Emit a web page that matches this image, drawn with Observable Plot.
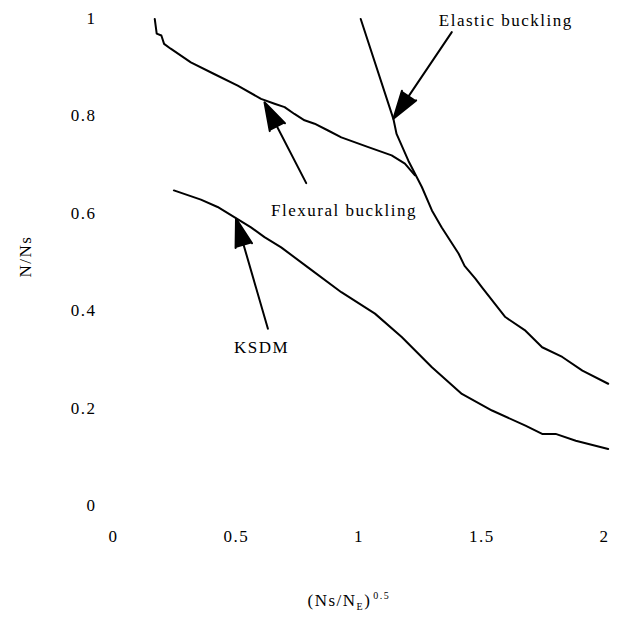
<!DOCTYPE html>
<html>
<head>
<meta charset="utf-8">
<script src="https://cdn.jsdelivr.net/npm/d3@7"></script>
<script src="https://cdn.jsdelivr.net/npm/@observablehq/plot@0.6"></script>
<style>
  html, body { margin: 0; padding: 0; background: #fff; }
  #chart svg { display: block; }
</style>
</head>
<body>
<div id="chart"></div>
<script>
// Tick values
const xTicks = [0, 0.5, 1, 1.5, 2];
const yTicks = [0, 0.2, 0.4, 0.6, 0.8, 1];
const xTickLabels = ["0", "0.5", "1", "1.5", "2"];
const yTickLabels = ["0", "0.2", "0.4", "0.6", "0.8", "1"];

// Flexural buckling curve
const flexX = [0.168, 0.176, 0.195, 0.206, 0.233, 0.315, 0.410, 0.506, 0.601, 0.656, 0.697, 0.737, 0.778, 0.819, 0.874, 0.928, 1.038, 1.133, 1.187, 1.228];
const flexY = [0.999, 0.969, 0.965, 0.948, 0.938, 0.910, 0.886, 0.862, 0.835, 0.825, 0.818, 0.804, 0.791, 0.784, 0.770, 0.756, 0.736, 0.719, 0.702, 0.678];

// Elastic buckling curve
const elasX = [1.007, 1.140, 1.153, 1.201, 1.256, 1.297, 1.337, 1.406, 1.430, 1.474, 1.501, 1.596, 1.678, 1.746, 1.828, 1.910, 2.015];
const elasY = [0.999, 0.794, 0.763, 0.708, 0.654, 0.606, 0.571, 0.517, 0.492, 0.466, 0.448, 0.387, 0.359, 0.325, 0.305, 0.277, 0.250];

// KSDM curve
const ksdmX = [0.246, 0.356, 0.424, 0.492, 0.560, 0.615, 0.683, 0.792, 0.928, 1.065, 1.174, 1.297, 1.419, 1.542, 1.678, 1.746, 1.801, 1.883, 2.015];
const ksdmY = [0.647, 0.628, 0.613, 0.592, 0.571, 0.551, 0.530, 0.489, 0.438, 0.394, 0.346, 0.284, 0.229, 0.195, 0.164, 0.147, 0.147, 0.133, 0.116];

// Annotations
const labelText = ["Elastic buckling", "Flexural buckling", "KSDM"];
const labelX = [1.325, 0.642, 0.491];
const labelY = [0.996, 0.606, 0.324];
const arrowX1 = [1.378, 0.785, 0.629];
const arrowY1 = [0.972, 0.662, 0.363];
const arrowX2 = [1.140, 0.615, 0.499];
const arrowY2 = [0.794, 0.828, 0.589];

const toRows = (xs, ys) => xs.map((x, i) => ({x, y: ys[i]}));
const flex = toRows(flexX, flexY);
const elas = toRows(elasX, elasY);
const ksdm = toRows(ksdmX, ksdmY);
const labels = labelText.map((t, i) => ({t, x: labelX[i], y: labelY[i]}));
const arrows = arrowX1.map((x1, i) => ({x1, y1: arrowY1[i], x2: arrowX2[i], y2: arrowY2[i]}));

const plot = Plot.plot({
  width: 619,
  height: 617,
  marginLeft: 113,
  marginRight: 15,
  marginTop: 18,
  marginBottom: 112,
  style: {fontFamily: "'Liberation Serif', 'Times New Roman', serif", fontSize: "17px", letterSpacing: "1.5px", color: "#000", background: "#fff"},
  x: {domain: [0, 2]},
  y: {domain: [0, 1]},
  marks: [
    Plot.axisX({ticks: xTicks, tickFormat: (d, i) => xTickLabels[i], tickSize: 0, tickPadding: 24, label: null, fontSize: 17}),
    Plot.axisY({ticks: yTicks, tickFormat: (d, i) => yTickLabels[i], tickSize: 0, tickPadding: 17, label: null, fontSize: 17}),
    Plot.line(flex, {x: "x", y: "y", stroke: "#000", strokeWidth: 2}),
    Plot.line(elas, {x: "x", y: "y", stroke: "#000", strokeWidth: 2}),
    Plot.line(ksdm, {x: "x", y: "y", stroke: "#000", strokeWidth: 2}),
    Plot.arrow(arrows, {x1: "x1", y1: "y1", x2: "x2", y2: "y2", stroke: "#000", fill: "#000", strokeWidth: 2, headLength: 22, headAngle: 34, strokeLinejoin: "miter"}),
    Plot.text(labels, {x: "x", y: "y", text: "t", textAnchor: "start", fill: "#000", fontSize: 17})
  ]
});

document.getElementById("chart").appendChild(plot);

const svg = d3.select(plot);
const sx = plot.scale("x");
const sy = plot.scale("y");

// Y-axis title
svg.append("text")
  .attr("transform", `translate(25,${sy.apply(0.51)}) rotate(-90)`)
  .attr("text-anchor", "middle")
  .attr("dy", "0.35em")
  .attr("fill", "#000")
  .attr("font-size", 17)
  .text("N/Ns");

// X-axis title with subscript and superscript
const title = svg.append("text")
  .attr("x", sx.apply(1) - 51)
  .attr("y", 606)
  .attr("fill", "#000")
  .attr("font-size", 17)
  .attr("text-anchor", "start");
title.append("tspan").text("(Ns/N");
title.append("tspan").attr("font-size", 10).attr("dy", 4).text("E");
title.append("tspan").attr("font-size", 17).attr("dy", -4).text(")");
title.append("tspan").attr("font-size", 10).attr("dy", -7).attr("dx", 2).text("0.5");
</script>
</body>
</html>
